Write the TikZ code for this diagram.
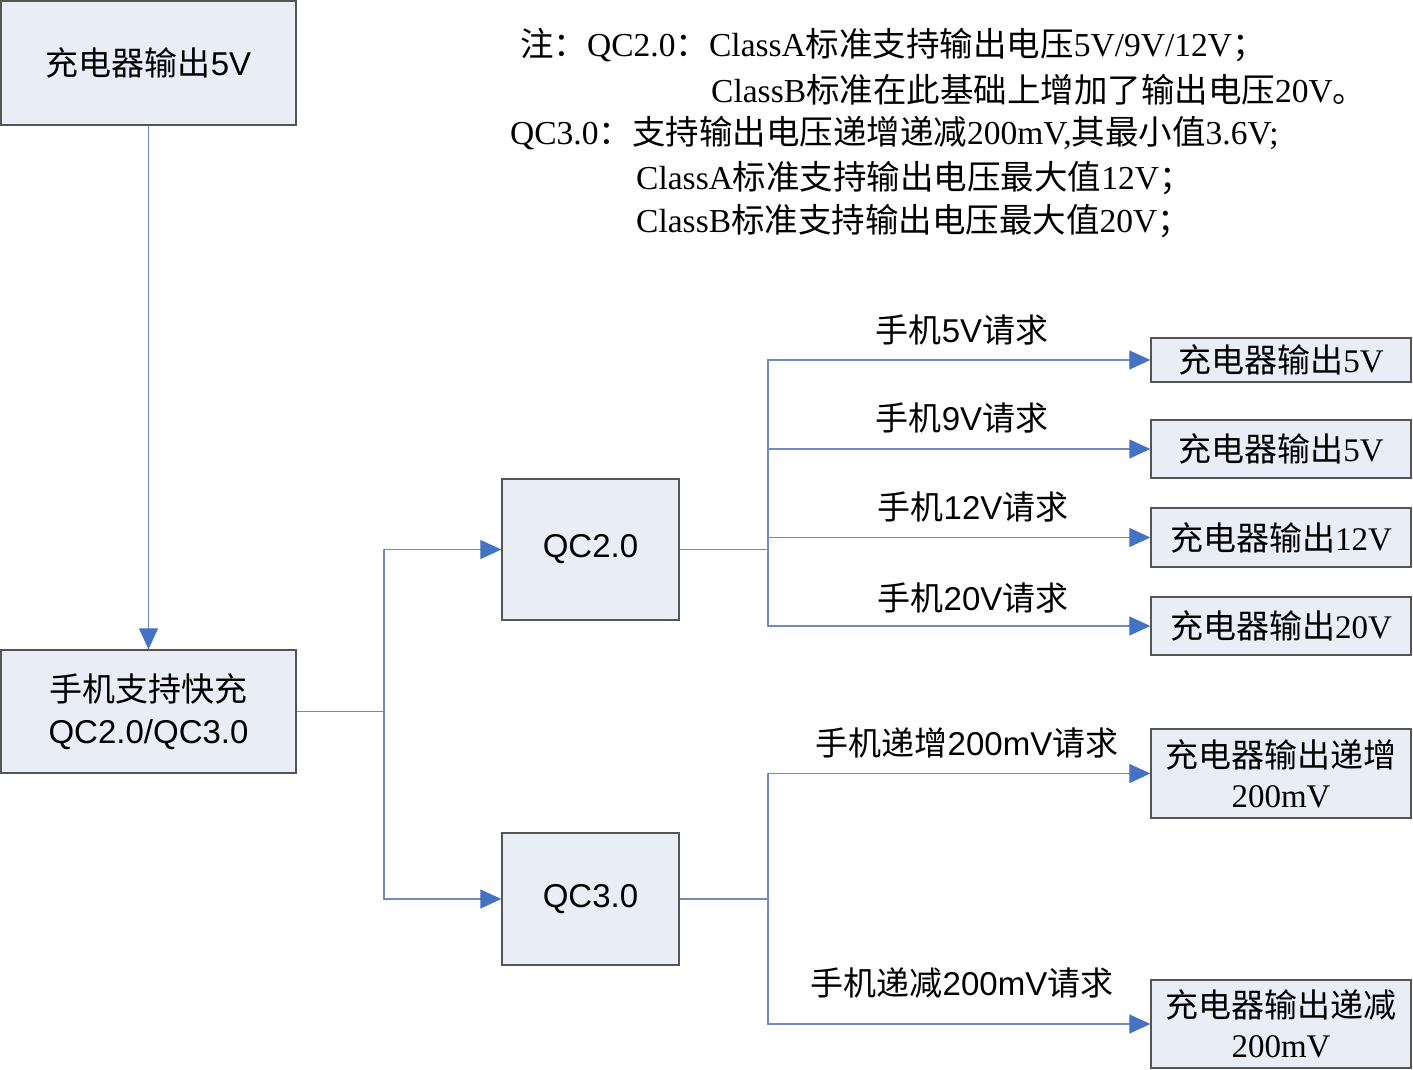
\documentclass[tikz,border=0pt]{standalone}
\usepackage{fontspec}
\setmainfont{Liberation Serif}
\newfontfamily\cjk{Noto Sans CJK SC}
\newfontfamily\arialf{Liberation Sans}
\usetikzlibrary{arrows.meta}
\newcommand\zh[1]{{\cjk #1}}
\definecolor{boxfill}{RGB}{233,238,246}
\definecolor{boxdraw}{RGB}{85,85,85}
\definecolor{connc}{RGB}{110,140,190}
\definecolor{tipc}{RGB}{68,114,196}
\tikzset{
  box/.style={draw=boxdraw, fill=boxfill, line width=1.3pt, inner sep=0pt, align=center},
  conn/.style={draw=connc, line width=1.2pt},
  arr/.style={conn, -{Triangle[length=21pt,width=19pt,color=tipc]}},
  lab/.style={inner sep=0pt, font=\arialf\fontsize{33}{38}\selectfont},
  note/.style={inner sep=0pt, anchor=west, font=\fontsize{33.5}{38}\selectfont},
}
\begin{document}
\begin{tikzpicture}[x=1pt,y=-1pt]
\useasboundingbox (0,0) rectangle (1413,1070);
% boxes
\node[box, minimum width=295pt, minimum height=124pt, font=\arialf\fontsize{33}{38}\selectfont] (A) at (148.5,63) {\zh{充电器输出}5V};
\node[box, minimum width=295pt, minimum height=123pt, font=\arialf\fontsize{33}{42}\selectfont] (B) at (148.5,711.5) {\zh{手机支持快充}\\QC2.0/QC3.0};
\node[box, minimum width=177pt, minimum height=141pt, font=\arialf\fontsize{33}{38}\selectfont] (Q2) at (590.5,549.5) {QC2.0};
\node[box, minimum width=177pt, minimum height=132pt, font=\arialf\fontsize{33}{38}\selectfont] (Q3) at (590.5,899) {QC3.0};
\tikzset{rbox/.style={box, minimum width=260pt, font=\fontsize{33}{40}\selectfont}}
\node[rbox, minimum height=44pt] (R1) at (1281,360) {\zh{充电器输出}5V};
\node[rbox, minimum height=58pt] (R2) at (1281,449) {\zh{充电器输出}5V};
\node[rbox, minimum height=59pt] (R3) at (1281,537.5) {\zh{充电器输出}12V};
\node[rbox, minimum height=58pt] (R4) at (1281,626) {\zh{充电器输出}20V};
\node[rbox, minimum height=89pt] (R5) at (1281,773.5) {\zh{充电器输出递增}\\200mV};
\node[rbox, minimum height=88pt] (R6) at (1281,1024) {\zh{充电器输出递减}\\200mV};
% junctions
\coordinate (j1) at (384,711.5);
\coordinate (j2) at (768,549.5);
\coordinate (j3) at (768,899);
% connectors
\draw[arr] (A) -- (B);
\draw[conn] (B.east) -- (j1);
\draw[arr] (j1) |- (Q2.west);
\draw[arr] (j1) |- (Q3.west);
\draw[conn] (Q2.east) -- (j2);
\draw[arr] (j2) |- (R1.west);
\draw[arr] (j2) |- (R2.west);
\draw[arr] (j2) |- (R3.west);
\draw[arr] (j2) |- (R4.west);
\draw[conn] (Q3.east) -- (j3);
\draw[arr] (j3) |- (R5.west);
\draw[arr] (j3) |- (R6.west);
% labels
\node[lab] (L1) at (962,330) {\zh{手机}5V\zh{请求}};
\node[lab] (L2) at (962,418) {\zh{手机}9V\zh{请求}};
\node[lab] (L3) at (973,507) {\zh{手机}12V\zh{请求}};
\node[lab] (L4) at (973,598) {\zh{手机}20V\zh{请求}};
\node[lab] (L5) at (967,743) {\zh{手机递增}200mV\zh{请求}};
\node[lab] (L6) at (962,983) {\zh{手机递减}200mV\zh{请求}};
% note
\node[note] (N1) at (520,45) {\zh{注：}QC2.0\zh{：}ClassA\zh{标准支持输出电压}5V/9V/12V\zh{；}};
\node[note] (N2) at (711,90) {ClassB\zh{标准在此基础上增加了输出电压}20V\zh{。}};
\node[note] (N3) at (510,133) {QC3.0\zh{：支持输出电压递增递减}200mV,\zh{其最小值}3.6V;};
\node[note] (N4) at (636,178) {ClassA\zh{标准支持输出电压最大值}12V\zh{；}};
\node[note] (N5) at (636,221) {ClassB\zh{标准支持输出电压最大值}20V\zh{；}};
\end{tikzpicture}
\end{document}
